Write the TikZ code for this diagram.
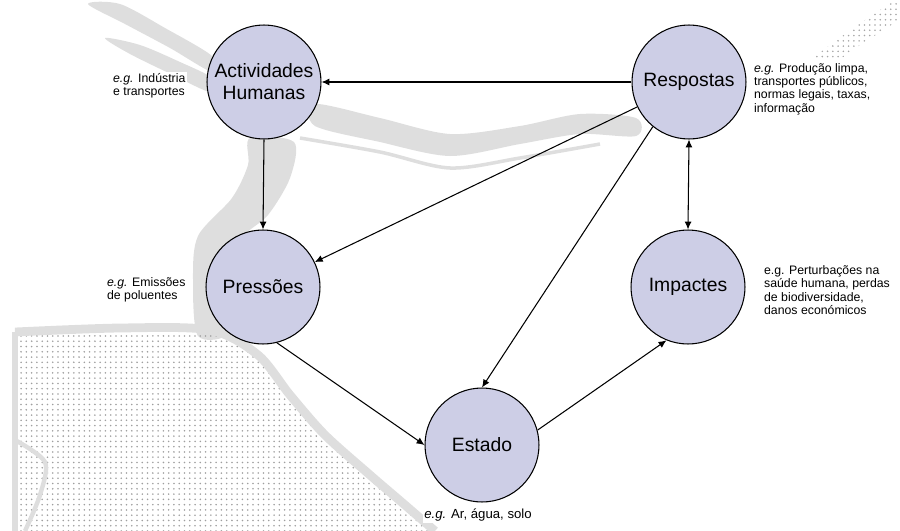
\documentclass[tikz,border=0pt]{standalone}
\usepackage{fontspec}
\setmainfont{Liberation Sans}
\usetikzlibrary{arrows.meta,patterns}
\definecolor{stagefill}{RGB}{205,206,230}
\definecolor{mapgray}{RGB}{222,222,222}

\begin{document}
\begin{tikzpicture}[x=0.02cm,y=-0.02cm,
  stage/.style={circle, draw=black, line width=0.6pt, fill=stagefill, minimum size=2.28cm,
    inner sep=0pt, align=center, font=\fontsize{11}{12.5}\selectfont},
  note/.style={fill=white, inner sep=1pt, align=left, font=\fontsize{7}{7.6}\selectfont},
  flow/.style={-{Latex[length=4.5pt,width=4pt]}, line width=0.6pt}]
\useasboundingbox (0,0) rectangle (900,531);
% Map in the background
\fill[mapgray] plot[smooth cycle] coordinates {(88,4) (120,4) (165,28) (212,56) (212,72) (170,48) (125,24)};
\fill[mapgray] plot[smooth cycle] coordinates {(105,38) (140,45) (180,62) (212,78) (210,92) (175,76) (130,54)};
\fill[mapgray] plot[smooth cycle] coordinates {(315,104) (380,118) (450,134) (520,126) (580,114) (636,118)
  (636,136) (580,134) (520,144) (450,156) (380,142) (315,126)};
\draw[mapgray, line width=2pt] plot[smooth] coordinates {(300,138) (380,152) (450,168) (520,158) (600,144)};
\fill[mapgray] plot[smooth cycle] coordinates {(250,138) (294,142) (290,178) (268,215) (242,238)
  (225,280) (230,332) (198,336) (193,280) (198,236) (232,198) (248,165)};
\fill[pattern=dots, pattern color=gray!75] plot[smooth] coordinates {(15,332) (120,328) (210,330) (258,355)
  (290,395) (325,435) (370,475) (405,505) (435,531)} -- (15,531) -- cycle;
\draw[mapgray, line width=5pt] plot[smooth] coordinates {(15,332) (120,328) (210,330) (258,355)
  (290,395) (325,435) (370,475) (405,505) (435,531)};
\draw[mapgray, line width=3pt] (15,332) -- (15,531);
\draw[mapgray, line width=2.5pt] plot[smooth] coordinates {(15,440) (45,462) (40,495) (25,531)};
\fill[pattern=dots, pattern color=gray!70] plot[smooth cycle] coordinates {(790,78) (830,45) (880,10) (900,0)
  (900,18) (860,45) (812,78)};
% Stages of the cycle
\foreach \n/\x/\y/\t in {act/264/82/{Actividades\\Humanas}, resp/689/82/Respostas,
  press/263/287/Pressões, imp/688/287/Impactes, est/482/445/Estado} {
  \node[stage] (\n) at (\x,\y) {\t};
}
% Examples next to each stage
\node[note, anchor=west] (actnote) at (111,86) {\textit{e.g.} Indústria\\e transportes};
\node[note, anchor=west] (pressnote) at (105,290) {\textit{e.g.} Emissões\\de poluentes};
\node[note, anchor=west] (respnote) at (752,89) {\textit{e.g.} Produção limpa,\\transportes públicos,\\normas legais, taxas,\\informação};
\node[note, anchor=west] (impnote) at (762,290) {e.g. Perturbações na\\saúde humana, perdas\\de biodiversidade,\\danos económicos};
\node[note, align=center, font=\fontsize{7.5}{8}\selectfont] (estnote) at (478,515) {\textit{e.g.} Ar, água, solo};
% Links
\foreach \a/\b in {resp.west/act.east, act.south/press.north, resp/press, resp.231/est.north,
  press.284/est.west, est.15/imp.248} {
  \draw[flow] (\a) -- (\b);
}
\draw[{Latex[length=4.5pt,width=4pt]}-{Latex[length=4.5pt,width=4pt]}, line width=0.6pt] (resp.south) -- (imp.north);
\end{tikzpicture}
\end{document}
